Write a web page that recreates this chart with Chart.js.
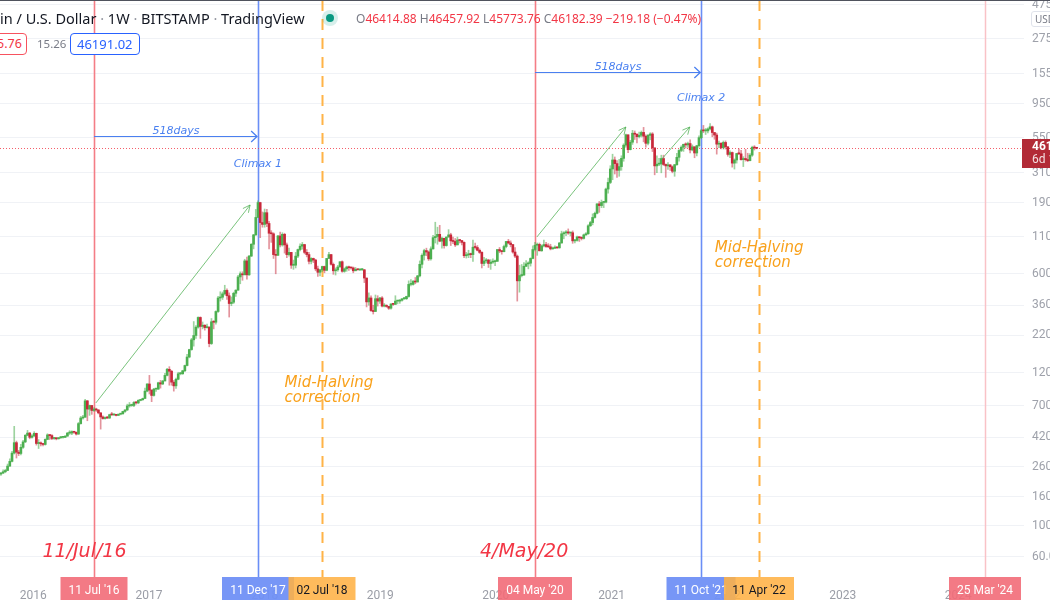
<!DOCTYPE html>
<html>
<head>
<meta charset="utf-8">
<script src="https://cdn.jsdelivr.net/npm/chart.js@4"></script>
<style>
html,body{margin:0;padding:0;background:#fff;overflow:hidden;width:1050px;height:600px;position:relative;}
#wrap{position:absolute;left:0;top:0;width:1095px;height:600px;}
.hd{position:absolute;white-space:nowrap;font-family:'Noto Sans',sans-serif;}
.sep{color:#9598a1;}
.g{color:#787b86;}
.r{color:#f23645;}
</style>
</head>
<body>
<div id="wrap"><canvas id="c"></canvas></div>
<div class="hd" style="left:0;top:0;width:1050px;height:1px;background:#50535e;"></div>
<div class="hd" style="left:0;top:8px;font-size:14.5px;color:#131722;">in / U.S. Dollar <span class="sep">·</span> 1W <span class="sep">·</span> BITSTAMP <span class="sep">·</span> TradingView</div>
<div class="hd" style="left:326px;top:14px;width:8px;height:8px;border-radius:50%;background:#089981;box-shadow:0 0 0 4px rgba(8,153,129,0.16);"></div>
<div class="hd" style="left:356px;top:10px;font-size:12px;"><span class="g">O</span><span class="r">46414.88</span> <span class="g">H</span><span class="r">46457.92</span> <span class="g">L</span><span class="r">45773.76</span> <span class="g">C</span><span class="r">46182.39</span> <span class="r">−219.18 (−0.47%)</span></div>
<div class="hd" style="left:-8px;top:33px;height:20px;line-height:20px;padding:0 4px;border:1px solid #f7525f;border-radius:4px;color:#f23645;font-size:12.5px;background:#fff;">5.76</div>
<div class="hd" style="left:37px;top:35px;line-height:18px;color:#787b86;font-size:11.5px;">15.26</div>
<div class="hd" style="left:70px;top:33px;height:20px;line-height:20px;padding:0 6px;border:1px solid #2962ff;border-radius:4px;color:#2962ff;font-size:13px;background:#fff;">46191.02</div>
<div class="hd" style="left:1031px;top:11px;height:14px;line-height:14px;padding:0 3px;border:1px solid #e0e3eb;border-radius:3px;color:#787b86;font-size:10px;background:#fff;">USD</div>
<script>
// ---------------- DATA ----------------
const firstWeek = '2015-09-21';   // Monday of the first weekly candle
const firstOpen = 231;
const closes = [
 235,240,245,263,284,325,385,330,323,357,390,434,450,420,430,
 448,380,380,378,374,406,437,432,412,414,410,417,420,420,428,450,450,461,456,443,525,575,582,760,665,705,650,665,655,625,585,570,580,575,607,605,608,600,612,615,640,655,700,705,705,740,735,765,775,790,890,1000,
 905,830,920,920,1020,1000,1050,1150,1270,1230,1030,970,1080,1180,1180,1240,1350,1550,1750,2050,2200,2520,2950,2550,2600,2500,2520,1930,2750,2730,3250,4050,4100,4330,4580,4200,3700,3780,4370,4600,5700,6000,5900,7400,5900,8000,9700,11300,15000,19100,13800,13400,
 16200,13600,11600,11500,8200,8100,11100,9600,11400,9600,8200,8500,6900,6900,8000,8900,9400,9650,8500,8200,7350,7700,7500,6500,6150,6400,6750,6350,7700,8200,7000,6300,6400,6700,7300,6250,6500,6700,6620,6600,6300,6450,6400,6400,6400,5600,3800,4050,3300,3250,4000,3850,4050,
 3550,3550,3530,3430,3670,3650,3850,3850,3900,4000,4000,4150,5050,5050,5300,5250,5800,7000,8100,8750,8550,7650,9000,10800,11000,11400,10200,10700,9500,10900,11300,10250,10150,9600,10400,10300,10000,8050,8150,8300,8200,9250,9200,8800,8500,7100,7400,7500,7100,7250,7300,7350,
 8900,8700,8600,9350,10150,9900,9650,8550,8000,5350,5830,5880,6780,7050,7130,7700,8900,9550,9680,8720,9450,9650,9350,9300,9000,9080,9250,9150,9900,11500,11670,11850,11650,11700,10250,10330,10920,10780,10670,11300,11500,13100,13800,15000,16050,18700,18200,19150,19250,23800,26500,33000,
 38200,36000,32300,34300,39200,48600,57500,45200,51000,59000,58100,55800,57100,59800,56200,50100,57000,58300,46500,34700,35700,35800,39100,35500,34700,35300,34200,31800,35400,39900,44600,47000,49300,48800,49900,45000,47300,42800,48200,54900,61500,61300,61300,63300,65500,59700,57300,49400,50100,46700,50800,47300,
 41800,43100,36300,38200,42400,42200,38400,39100,38400,37800,41300,46900,46414.88,46182.39
];
const highs = [
 238,248,250,272,296,335,502,395,340,375,400,440,470,455,440,
 460,450,405,390,380,410,445,440,440,420,418,420,426,425,432,455,468,466,462,458,535,590,600,780,765,710,705,680,675,660,628,595,585,590,612,630,612,610,614,620,642,660,720,740,720,750,750,775,780,795,935,1005,
 1150,910,930,930,1030,1060,1060,1190,1290,1325,1250,1060,1100,1210,1210,1250,1360,1620,1760,2100,2760,2580,2980,2980,2740,2620,2650,2540,2900,2800,3290,4160,4480,4460,4980,4690,4400,4120,4450,4620,5860,6190,6200,7600,7880,8100,9800,11400,17100,19666,19200,16400,
 17200,17150,14100,12100,11700,8900,11200,11800,11700,11600,9900,9100,8500,7500,8500,8950,9760,9990,9700,8900,8500,7800,7750,7600,6800,6450,6800,6800,7700,8500,8250,7150,6600,6880,7300,7400,6600,6800,6800,6650,6700,6650,6520,6450,6550,6450,5600,4400,4200,3600,4250,4200,4100,
 4150,3700,3630,3530,3700,3700,4200,3900,3950,4000,4080,4170,5350,5460,5400,5650,5850,7400,8300,8950,9100,8700,9320,11200,13880,12800,13200,10900,10700,10950,12300,11600,10900,10650,10900,10480,10350,10100,8500,8800,8400,10400,9900,9500,9000,8600,7850,7700,7600,7550,7650,7500,
 8900,9200,8750,9580,10180,10500,10250,9700,9200,8150,6900,6980,7200,7450,7300,7780,9450,10000,9900,9900,9600,10400,10000,9800,9700,9280,9450,9270,10000,12000,11900,12100,12450,11700,12050,10500,11100,10950,10950,11450,11750,13350,14100,15900,16400,18800,19450,19900,19450,24200,28400,34800,
 41950,40100,37850,38600,40900,49700,58300,57500,52600,61800,61200,58400,60100,61200,64900,57500,58000,59500,59600,46000,40900,39300,41300,41300,35800,36600,35100,34700,35500,42600,45300,48100,49400,50500,51100,52900,48800,47400,48500,56600,62900,67000,63700,64300,69000,66300,59400,59100,51900,50600,52000,52100,
 47500,44400,43500,38900,42600,45800,44700,40300,45400,42600,42400,47800,48200,46457.92
];
const lows = [
 226,233,236,244,262,282,320,300,312,316,350,385,430,410,415,
 425,370,350,365,365,370,404,405,405,406,403,408,412,415,418,428,440,438,448,436,440,520,565,585,550,600,610,640,640,615,480,565,565,570,570,600,600,595,598,605,613,630,650,685,695,690,720,725,760,765,790,880,
 850,750,820,885,915,935,990,1050,1140,980,980,890,930,1070,1160,1170,1220,1340,1530,1730,1850,2100,2480,2100,2450,2400,2480,1830,1900,2450,2650,3200,3850,3950,4250,3950,2970,3570,3700,4150,4580,5100,5400,5950,5500,5850,7950,9000,11200,15000,10800,12800,
 12800,12900,9000,10000,7700,6000,8100,9300,9400,8400,7800,8000,6550,6450,6600,7800,8700,8950,8300,7900,7050,7050,7200,6300,5750,5800,6230,6100,6300,7700,6900,5950,5880,6250,6700,6150,6150,6250,6350,6480,6100,6300,6380,6300,6350,5200,3500,3600,3250,3120,3250,3550,3700,
 3500,3500,3480,3360,3380,3590,3640,3680,3710,3840,3950,3950,4100,4930,4990,5100,5250,5700,6600,7500,8050,7450,7500,8950,9900,9700,10100,9100,9100,9400,10900,9500,9800,9350,9600,9900,9600,7800,7750,7800,7800,7350,8950,8700,8350,6600,6850,7150,6650,6450,7100,6850,
 7350,8450,8250,8550,9150,9750,9300,8400,7800,3850,4450,5700,5850,6750,6500,6800,7650,8700,8100,8700,8650,9300,9200,9200,8850,8950,9050,9050,9100,9880,10600,11150,11400,11100,9850,9900,10200,10150,10400,10550,11200,11400,12950,13300,14800,15900,16300,17600,17600,19000,22300,26000,
 27700,30400,28800,29300,32300,37400,47100,43000,44950,49200,53300,50400,54700,55500,51300,47000,48800,53000,43800,30000,31100,34800,31000,34900,28800,32800,32200,31000,29300,35000,37500,43700,43900,46400,46800,42800,44300,39600,40800,47100,54000,59600,57800,59400,62300,55700,53500,42000,46700,45700,45600,45600,
 40600,39700,34000,32950,36300,41700,38100,34300,37500,37200,37600,40500,44900,45773.76
];
const lastPrice = 46182.39;
const countdown = '6d 11h';

const eventDates  = ['2016-07-11','2017-12-11','2018-07-02','2020-05-04','2021-10-11','2022-04-11','2024-03-25'];
const eventLabels = ["11 Jul '16","11 Dec '17","02 Jul '18","04 May '20","11 Oct '21","11 Apr '22","25 Mar '24"];
const eventKinds  = ['halving','climax','mid','halving','climax','mid','future'];

const yearTicks  = [2016,2017,2018,2019,2020,2021,2022,2023,2024];
const priceTicks = [475000,275000,155000,95000,55000,31000,19000,11000,6000,3600,2200,1200,700,420,260,160,100,60];

// annotations in data space (date, price)
const spanArrows = [
  {from:'2016-07-11', to:'2017-12-11', price:56400,  text:'518days'},
  {from:'2020-05-04', to:'2021-10-11', price:159600, text:'518days'}
];
const trendArrows = [
  {from:['2016-07-17',735],   to:['2017-11-16',18370]},
  {from:['2020-05-10',10920], to:['2021-02-15',65300]},
  {from:['2021-06-06',38200], to:['2021-09-05',65300]}
];
const climaxLabels = [
  {date:'2017-12-11', price:34000, text:'Climax 1'},
  {date:'2021-10-11', price:99600, text:'Climax 2'}
];
const midLabels = [
  {date:'2018-03-05', price:1016, lines:['Mid-Halving','correction']},
  {date:'2021-11-23', price:9120, lines:['Mid-Halving','correction']}
];
const halvingLabels = [
  {date:'2016-01-30', price:65, text:'11/Jul/16'},
  {date:'2019-11-12', price:65, text:'4/May/20'}
];

// ---------------- HELPERS ----------------
const DAY = 86400000;
function toUTC(iso){ const p = iso.split('-').map(Number); return Date.UTC(p[0], p[1]-1, p[2]); }
const t0 = toUTC(firstWeek);
function weekIndex(iso){ return (toUTC(iso) - t0) / (7*DAY); }

const opens = closes.map((c,i)=> i===0 ? firstOpen : closes[i-1]);

const UP='#4caf50', DN='#c8283a', UPW='rgba(76,175,80,0.55)', DNW='rgba(200,40,58,0.5)';
const bodyData = closes.map((c,i)=>({x:i, y:[opens[i], c]}));
const wickData = closes.map((c,i)=>({x:i, y:[Math.min(lows[i],opens[i],c), Math.max(highs[i],opens[i],c)]}));
const bodyCol = closes.map((c,i)=> c>=opens[i] ? UP : DN);
const wickCol = closes.map((c,i)=> c>=opens[i] ? UPW : DNW);

const kindStyle = {
  halving:{line:'#f47d86', width:1.6, dash:[], box:'rgba(242,108,120,0.9)', text:'#ffffff'},
  climax: {line:'#6a8ef6', width:1.6, dash:[], box:'rgba(112,144,246,0.95)', text:'#ffffff'},
  mid:    {line:'#ffb347', width:2, dash:[11,8], box:'rgba(255,178,70,0.88)', text:'#131722'},
  future: {line:'#f9c2c7', width:1.5, dash:[], box:'rgba(242,108,120,0.9)', text:'#ffffff'}
};
const BLUE_TXT='#4a80f0', ORANGE_TXT='#f9a11b', RED_TXT='#f23645';

function chevron(ctx, x1,y1,x2,y2, len, ang){
  const a = Math.atan2(y2-y1, x2-x1);
  ctx.beginPath();
  ctx.moveTo(x2 - len*Math.cos(a-ang), y2 - len*Math.sin(a-ang));
  ctx.lineTo(x2,y2);
  ctx.lineTo(x2 - len*Math.cos(a+ang), y2 - len*Math.sin(a+ang));
  ctx.stroke();
}

const overlay = {
  id:'overlay',
  beforeDatasetsDraw(chart){
    const {ctx, chartArea:a, scales:{x,y}} = chart;
    ctx.save();
    eventDates.forEach((d,i)=>{
      const st = kindStyle[eventKinds[i]];
      const px = Math.round(x.getPixelForValue(weekIndex(d))) + 0.5;
      ctx.strokeStyle = st.line; ctx.lineWidth = st.width; ctx.setLineDash(st.dash);
      ctx.beginPath(); ctx.moveTo(px, 0); ctx.lineTo(px, a.bottom + 5); ctx.stroke();
    });
    const py = Math.round(y.getPixelForValue(lastPrice)) + 0.5;
    ctx.setLineDash([1,2]); ctx.strokeStyle = 'rgba(242,54,69,0.8)'; ctx.lineWidth = 1;
    ctx.beginPath(); ctx.moveTo(a.left, py); ctx.lineTo(a.right, py); ctx.stroke();
    ctx.restore();
  },
  afterDraw(chart){
    const {ctx, chartArea:a, scales:{x,y}} = chart;
    ctx.save();
    // trend arrows
    ctx.strokeStyle = 'rgba(76,175,80,0.75)'; ctx.lineWidth = 1; ctx.setLineDash([]);
    trendArrows.forEach(t=>{
      const x1 = x.getPixelForValue(weekIndex(t.from[0])), y1 = y.getPixelForValue(t.from[1]);
      const x2 = x.getPixelForValue(weekIndex(t.to[0])),   y2 = y.getPixelForValue(t.to[1]);
      ctx.beginPath(); ctx.moveTo(x1,y1); ctx.lineTo(x2,y2); ctx.stroke();
      chevron(ctx,x1,y1,x2,y2,8,0.45);
    });
    // 518 days arrows
    ctx.strokeStyle = BLUE_TXT; ctx.fillStyle = BLUE_TXT;
    ctx.font = "italic 11px 'DejaVu Sans'"; ctx.textAlign='center'; ctx.textBaseline='alphabetic';
    spanArrows.forEach(s=>{
      const x1 = x.getPixelForValue(weekIndex(s.from)), x2 = x.getPixelForValue(weekIndex(s.to));
      const yy = Math.round(y.getPixelForValue(s.price)) + 0.5;
      ctx.lineWidth = 1;
      ctx.beginPath(); ctx.moveTo(x1,yy); ctx.lineTo(x2-1,yy); ctx.stroke();
      ctx.lineWidth = 1.3;
      chevron(ctx,x1,yy,x2-1,yy,8,0.75);
      ctx.fillText(s.text, (x1+x2)/2, yy-3);
    });
    climaxLabels.forEach(c=>{
      ctx.fillText(c.text, x.getPixelForValue(weekIndex(c.date)), y.getPixelForValue(c.price));
    });
    // mid halving labels
    ctx.fillStyle = ORANGE_TXT; ctx.font = "italic 15px 'DejaVu Sans'"; ctx.textAlign='left'; ctx.textBaseline='middle';
    midLabels.forEach(m=>{
      const px = x.getPixelForValue(weekIndex(m.date)), py = y.getPixelForValue(m.price);
      m.lines.forEach((l,k)=> ctx.fillText(l, px, py + k*15));
    });
    // halving date labels
    ctx.fillStyle = RED_TXT; ctx.font = "italic 19px 'DejaVu Sans'";
    halvingLabels.forEach(h=>{
      ctx.fillText(h.text, x.getPixelForValue(weekIndex(h.date)), y.getPixelForValue(h.price));
    });
    // date boxes on the time axis
    ctx.font = "12px Roboto"; ctx.textAlign='center'; ctx.textBaseline='middle';
    const by = a.bottom + 5, bh = 24;
    eventDates.forEach((d,i)=>{
      const st = kindStyle[eventKinds[i]];
      const px = Math.round(x.getPixelForValue(weekIndex(d)));
      const w = Math.round(ctx.measureText(eventLabels[i]).width + 16);
      ctx.fillStyle = st.box; ctx.fillRect(px - w/2, by, w, bh);
      ctx.fillStyle = st.text; ctx.fillText(eventLabels[i], px, by + 14);
    });
    // last price label on the price axis
    const py = Math.round(y.getPixelForValue(lastPrice));
    ctx.fillStyle = '#b22a36'; ctx.fillRect(a.right - 2, py - 9, chart.width - a.right + 2, 29);
    ctx.textAlign='left';
    ctx.fillStyle = '#ffffff'; ctx.font = "bold 12px Roboto"; ctx.fillText(lastPrice.toFixed(2), a.right + 8, py - 1);
    ctx.fillStyle = 'rgba(255,255,255,0.85)'; ctx.font = "12px Roboto"; ctx.fillText(countdown, a.right + 8, py + 12);
    ctx.restore();
  }
};

const xMin = -0.42, xMax = 461.66;

new Chart(document.getElementById('c'), {
  type:'bar',
  data:{ datasets:[
    {label:'body', data:bodyData, backgroundColor:bodyCol, barThickness:2, grouped:false, order:0, minBarLength:1, borderWidth:0},
    {label:'wick', data:wickData, backgroundColor:wickCol, barThickness:1, grouped:false, order:1, borderWidth:0}
  ]},
  options:{
    responsive:true, maintainAspectRatio:false, animation:false,
    layout:{padding:0},
    plugins:{legend:{display:false}, tooltip:{enabled:false}},
    scales:{
      x:{ type:'linear', min:xMin, max:xMax, offset:false,
          grid:{display:false}, border:{display:false},
          afterBuildTicks(s){ s.ticks = yearTicks.map(yv=>({value: weekIndex(yv+'-01-01')})); },
          ticks:{autoSkip:false, maxRotation:0, padding:9, color:'#9a9da6', font:{family:'Roboto', size:12},
                 callback:(v,i)=> String(yearTicks[i])},
          afterFit(s){ s.height = 28; s.paddingLeft = 0; s.paddingRight = 0; } },
      y:{ type:'logarithmic', position:'right', min:47, max:515000,
          grid:{color:'#f0f2f6', drawTicks:false}, border:{display:false},
          afterBuildTicks(s){ s.ticks = priceTicks.map(v=>({value:v})); },
          ticks:{autoSkip:false, padding:8, color:'#9ea1aa', font:{family:'Roboto', size:12},
                 callback:(v)=> Number(v).toFixed(2)},
          afterFit(s){ s.width = 71; s.paddingTop = 0; s.paddingBottom = 0; } }
    }
  },
  plugins:[overlay]
});
</script>
</body>
</html>
